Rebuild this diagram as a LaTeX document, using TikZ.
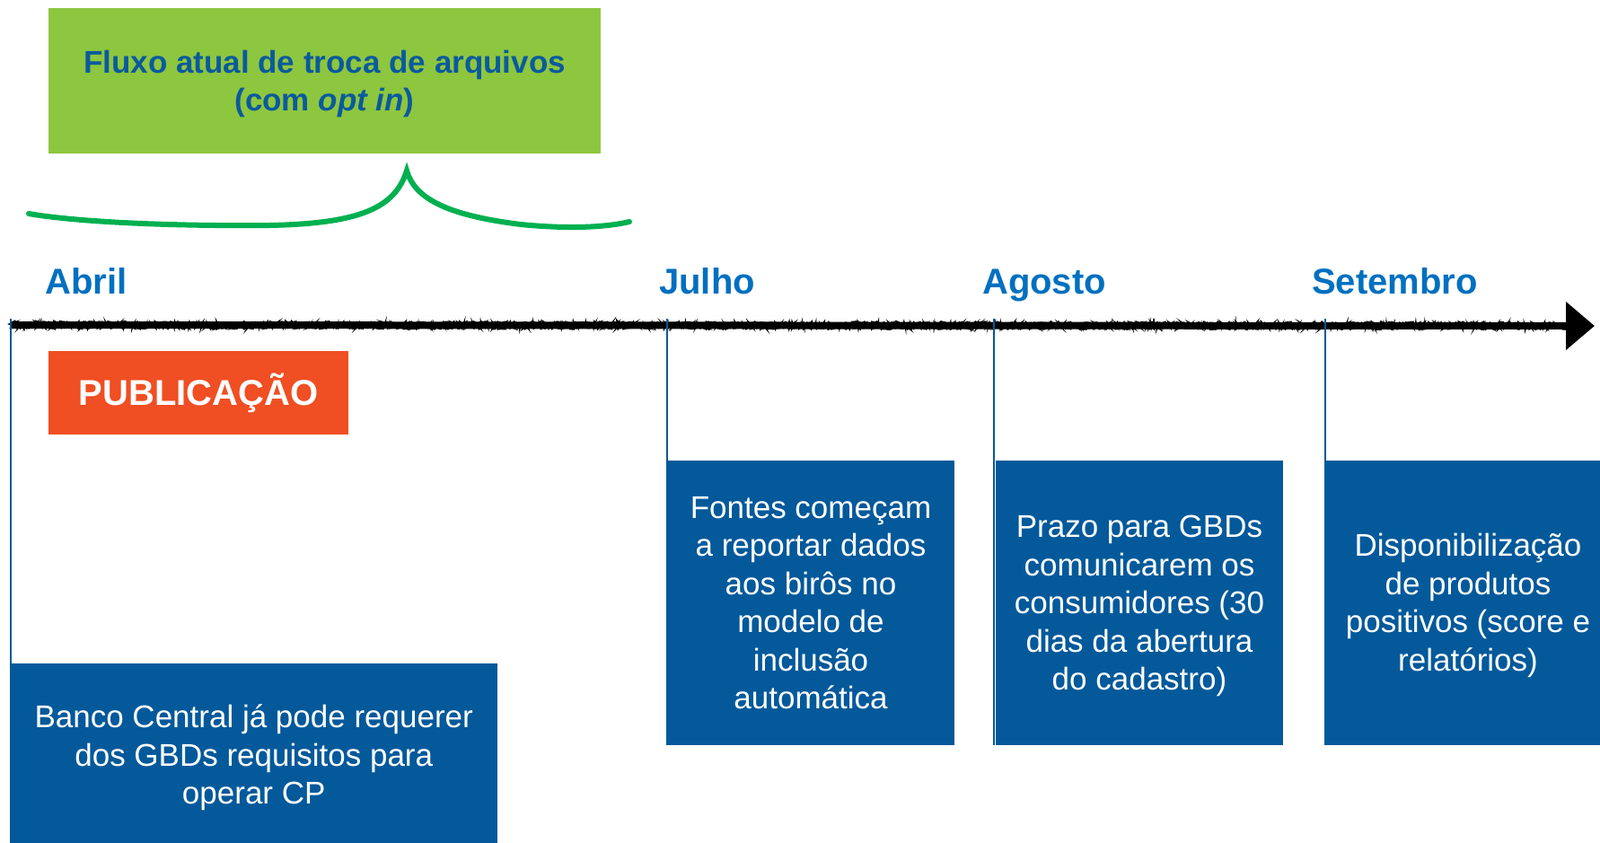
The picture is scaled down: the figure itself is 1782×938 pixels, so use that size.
\documentclass[tikz,border=0pt]{standalone}
\usepackage{fontspec}
\setmainfont{Liberation Sans}
\usetikzlibrary{arrows.meta,decorations.pathmorphing}
\definecolor{boxblue}{HTML}{03599A}
\definecolor{monthblue}{HTML}{0070C0}
\definecolor{titleblue}{HTML}{0B5A9C}
\definecolor{limegreen}{HTML}{8DC63F}
\definecolor{pubred}{HTML}{F04E23}
\definecolor{bracegreen}{HTML}{00B050}
\newcommand\mytopstrut{\rule{0pt}{32pt}}
\newcommand\mybotstrut{\rule[-8pt]{0pt}{8pt}}
\begin{document}
\begin{tikzpicture}[x=1pt,y=-1pt,
  month/.style={anchor=base west,inner sep=0pt,text=monthblue,font=\fontsize{40}{48}\selectfont\bfseries},
  infobox/.style={fill=boxblue,text=white,inner sep=0pt,align=center,font=\fontsize{35}{42.5}\selectfont},
  vline/.style={draw=boxblue,line width=2pt},
  rough/.style={line width=1.4pt,decorate,decoration={random steps,segment length=1.5pt,amplitude=4.5pt}},
]
\useasboundingbox (0,0) rectangle (1782,938);
\clip (0,0) rectangle (1782,938);

% title box
\node[fill=limegreen,minimum width=615pt,minimum height=162pt,inner sep=0pt,text=titleblue,
      align=center,font=\fontsize{35}{42}\selectfont\bfseries] (title) at (361.5,90)
      {\mytopstrut Fluxo atual de troca de arquivos\\(com \textit{opt in})\mybotstrut};

% green brace
\draw[bracegreen,line width=6pt,line cap=round,line join=miter]
  (32,238) .. controls (90,248) and (200,252) .. (300,251)
  .. controls (400,249) and (440,232) .. (453,190)
  .. controls (462,222) and (500,240) .. (580,250)
  .. controls (640,256) and (680,252) .. (701,247);

% timeline coordinates
\coordinate (tl0) at (12,362);
\coordinate (tl1) at (1776,363);
\coordinate (tl2) at (1750,363);
\coordinate (mA) at (12,355);
\coordinate (mJ) at (743,355);
\coordinate (mG) at (1107,355);
\coordinate (mS) at (1475.5,355);

% month labels
\node[month] (lA) at (50,327) {Abril};
\node[month] (lJ) at (734,327) {Julho};
\node[month] (lG) at (1094,327) {Agosto};
\node[month] (lS) at (1461,327) {Setembro};

% publication
\node[fill=pubred,text=white,font=\fontsize{40}{48}\selectfont\bfseries,minimum width=334pt,
      minimum height=93pt,inner sep=0pt] (pub) at (221,437.5) {PUBLICAÇÃO};

% info boxes
\node[infobox,minimum width=542.5pt,minimum height=204pt] (bA) at (282.75,841)
  {\mytopstrut Banco Central já pode requerer\\dos GBDs requisitos para\\operar CP\mybotstrut};
\node[infobox,minimum width=320pt,minimum height=317pt] (bJ) at (903,671.5)
  {\mytopstrut Fontes começam\\a reportar dados\\aos birôs no\\modelo de\\inclusão\\automática\mybotstrut};
\node[infobox,minimum width=320pt,minimum height=317pt] (bG) at (1269,671.5)
  {\mytopstrut Prazo para GBDs\\comunicarem os\\consumidores (30\\dias da abertura\\do cadastro)\mybotstrut};
\node[infobox,minimum width=320pt,minimum height=317pt] (bS) at (1635,671.5)
  {\mytopstrut Disponibilização\\de produtos\\positivos (score e\\relatórios)\mybotstrut};

% timeline arrow
\draw[line width=8pt,-{Triangle[length=32pt,width=52pt]}] (tl0) -- (tl1);
\draw[rough] (tl0) -- (tl2);
\draw[rough] (tl0) -- (tl2);
\draw[rough] (tl0) -- (tl2);

% vertical connectors
\draw[vline] (mA) -- (mA |- bA.south);
\draw[vline] (mJ) -- (mJ |- bJ.south);
\draw[vline] (mG) -- (mG |- bG.south);
\draw[vline] (mS) -- (mS |- bS.south);
\end{tikzpicture}
\end{document}
